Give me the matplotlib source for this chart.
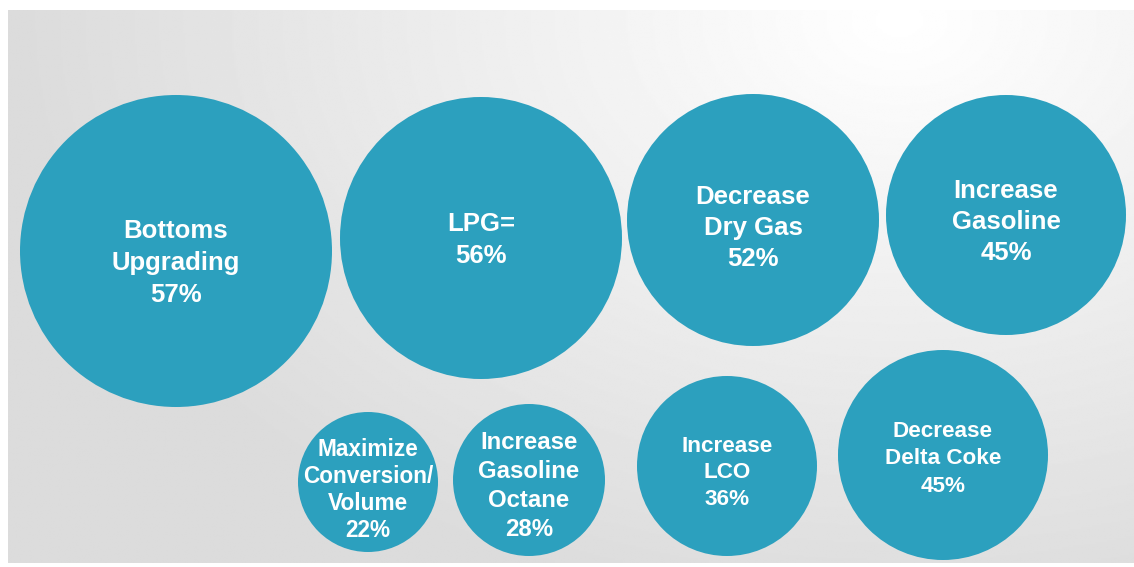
import numpy as np
import matplotlib.pyplot as plt
from matplotlib.patches import Circle

# Survey results: share of respondents naming each FCC objective
labels = [
    "Bottoms\nUpgrading",
    "LPG=",
    "Decrease\nDry Gas",
    "Increase\nGasoline",
    "Maximize\nConversion/\nVolume",
    "Increase\nGasoline\nOctane",
    "Increase\nLCO",
    "Decrease\nDelta Coke",
]
values = [57, 56, 52, 45, 22, 28, 36, 45]

# Layout of the bubbles (pixel units of the 1134x567 canvas)
centers_x = [176, 481, 753, 1006, 368, 529, 727, 943]
centers_y = [251, 238, 220, 215, 482, 480, 466, 455]
radii = [156, 141, 126, 120, 70, 76, 90, 105]
text_dy = [12, 2, 8, 7, 8, 6, 7, 4]
font_sizes = [18.5, 18.5, 18.5, 18.5, 16.3, 17.3, 16.2, 16.2]
line_sp = [1.4, 1.38, 1.35, 1.35, 1.22, 1.32, 1.32, 1.4]

BUBBLE = "#2ca0be"
W, H = 1134, 567

fig = plt.figure(figsize=(11.34, 5.67), dpi=100)
ax = fig.add_axes([0, 0, 1, 1])
ax.set_xlim(0, W)
ax.set_ylim(H, 0)
ax.set_aspect("equal")
ax.axis("off")

# grey background panel, lighter towards the top right
gx, gy = np.meshgrid(np.linspace(8, W, 600), np.linspace(10, 563, 300))
d = np.sqrt(((gx - 900) / 950) ** 2 + ((gy - 20) / 650) ** 2)
shade = np.clip(1.0 - 0.15 * d, 0.86, 1.0)
ax.imshow(shade, cmap="gray", vmin=0, vmax=1, extent=(8, W, 563, 10),
          interpolation="bilinear", zorder=0)

for i in range(len(labels)):
    ax.add_patch(Circle((centers_x[i], centers_y[i]), radii[i],
                        facecolor=BUBBLE, edgecolor="none", zorder=2))
    ax.text(centers_x[i], centers_y[i] + text_dy[i], f"{labels[i]}\n{values[i]}%",
            ha="center", va="center", color="white", fontsize=font_sizes[i],
            fontweight="bold", family="Liberation Sans", linespacing=line_sp[i],
            zorder=3)

fig.savefig("out.png", dpi=100, facecolor="white")
